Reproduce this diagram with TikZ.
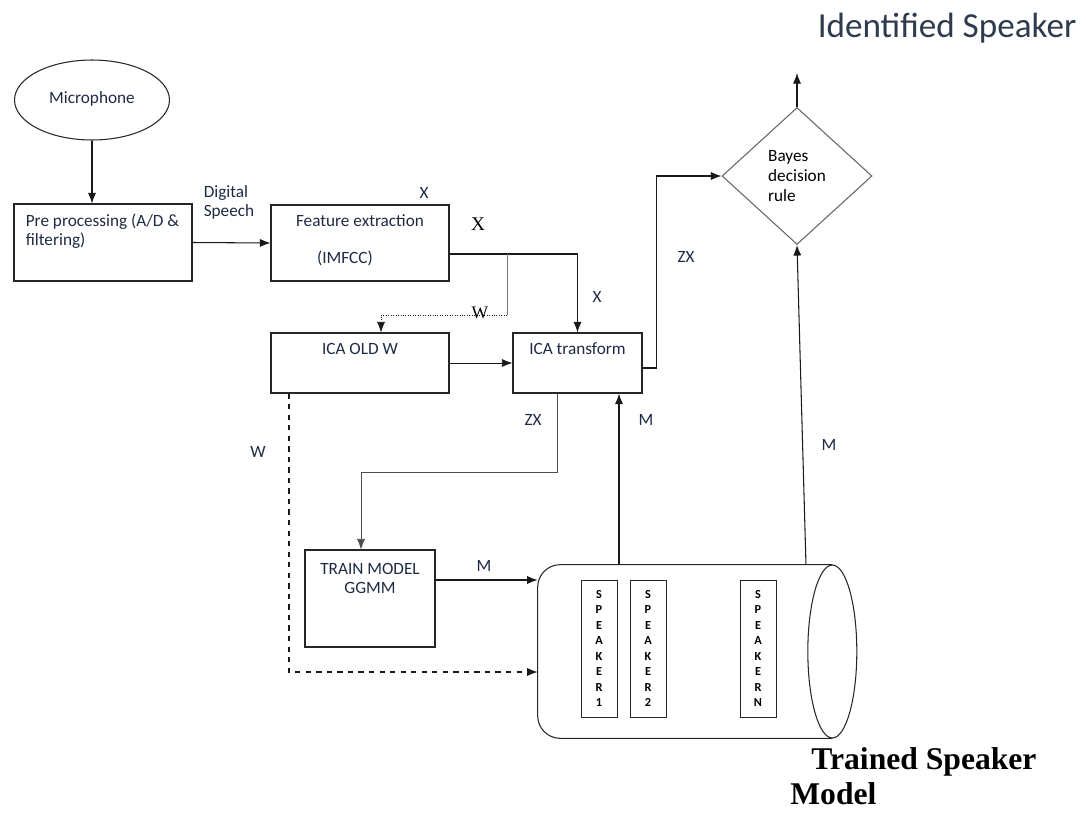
\documentclass[tikz,border=0pt]{standalone}
\usepackage{fontspec}
\setmainfont{Carlito}
\newfontfamily\timesfont{Liberation Serif}
\usepackage{tikz}
\usetikzlibrary{arrows.meta,positioning,shapes.geometric}
\usepackage{xcolor}
\definecolor{inkblue}{HTML}{1E2A44}
\definecolor{titlegray}{HTML}{2E3B4E}

\begin{document}
\begin{tikzpicture}[x=0.02cm, y=-0.02cm, font=\fontsize{9.8}{10.9}\selectfont\color{inkblue}]
\tikzset{
    blockbox/.style={rectangle, draw=black!85, semithick, inner sep=0pt, minimum width=3.56cm},
    boxtext/.style={anchor=north, inner sep=0pt, yshift=-0.2cm, align=center},
    speakerbox/.style={rectangle, draw=black!85, thin, inner sep=0pt, minimum width=0.72cm, minimum height=2.74cm, align=center, font=\fontsize{7}{8.8}\selectfont\bfseries},
    myarrow/.style={-{Latex[length=6pt, width=4.6pt]}, semithick, draw=black!90},
    flowlabel/.style={inner sep=0pt, align=left}
}
\useasboundingbox (0,0) rectangle (1086,812);

\node[ellipse, draw=black!85, semithick, minimum width=3.1cm, minimum height=1.6cm, inner sep=0pt] (mic) at (92,100) {};
\node[inner sep=0pt] at (92,99) {Microphone};

\node[blockbox, minimum height=1.54cm, label={[anchor=north west, inner sep=0pt, xshift=0.24cm, yshift=-0.2cm, align=left]north west:Pre processing (A/D \&\\filtering)}] (pre) at (103,242.5) {};
\node[blockbox, minimum height=1.52cm, label={[boxtext]north:Feature extraction}, label={[inner sep=0pt, xshift=-0.3cm, yshift=-0.3cm]center:(IMFCC)}] (fe) at (360,243) {};
\node[blockbox, minimum height=1.2cm, label={[boxtext]north:ICA OLD W}] (old) at (360,363) {};
\node[blockbox, minimum width=2.58cm, minimum height=1.2cm, label={[boxtext]north:ICA transform}] (ica) at (577.5,363) {};
\node[diamond, draw=black!60, semithick, minimum width=3cm, minimum height=2.74cm, inner sep=0pt, align=left, font=\fontsize{9.8}{11.4}\selectfont] (bayes) at (797,176) {Bayes\\decision\\rule};
\node[blockbox, minimum width=2.6cm, minimum height=1.94cm, label={[boxtext, yshift=-0.06cm]north:TRAIN MODEL\\GGMM}] (train) at (370,598.5) {};

% trained speaker store, drawn round an empty node
\node[rectangle, minimum width=5.88cm, minimum height=3.46cm, inner sep=0pt] (store) at (685,651.5) {};
\draw[black!85, semithick, rounded corners=0.45cm] (store.north east) -- (store.north west) -- (store.south west) -- (store.south east);
\draw[black!85, semithick] (store.east) ellipse (0.49cm and 1.73cm);
\node[speakerbox] (sp1) at (599,648.5) {S\\P\\E\\A\\K\\E\\R\\1};
\node[speakerbox] (sp2) at (648,648.5) {S\\P\\E\\A\\K\\E\\R\\2};
\node[speakerbox] (spN) at (758,648.5) {S\\P\\E\\A\\K\\E\\R\\N};

\coordinate (out) at (797,73);
\coordinate (split) at (507,254);
\coordinate (wturn) at (507,315);
\coordinate (mup) at ([xshift=0.83cm]ica.south);

\draw[myarrow] (mic.south) -- (mic.south |- pre.north);
\draw[myarrow] (pre.east) -- (fe.west);
\draw[myarrow] (fe.east |- split) -| (ica.north);
\draw[black!55] (split) -- (wturn);
\draw[myarrow, thin, densely dotted] (wturn) -| ([xshift=0.42cm]old.north);
\draw[myarrow, thin] (old.east) -- (ica.west);
\draw[myarrow] ([yshift=-0.1cm]ica.east) -- ++(0.28cm,0) |- (bayes.west);
\draw[myarrow] (bayes.north) -- (out);
\draw[myarrow, thin, draw=black!70] ([xshift=-0.41cm]ica.south) -- ++(0,-1.58cm) -| ([xshift=-0.18cm]train.north);
\draw[myarrow] ([yshift=0.37cm]train.east) coordinate (m1) -- (m1 -| store.west);
\draw[myarrow, dashed] ([xshift=-1.42cm]old.south) |- ([yshift=-0.41cm]store.west);
\draw[myarrow] (mup |- store.north) -- (mup);
\draw[myarrow] ([xshift=2.42cm]store.north) -- (bayes.south);

% connector labels
\node[flowlabel] (dspeech) at (229,202) {Digital\\Speech};
\node[flowlabel] (x1) at (424,193) {X};
\node[flowlabel, font=\timesfont\fontsize{11}{13}\selectfont] (x2) at (478,224) {X};
\node[flowlabel] (x3) at (597,297) {X};
\node[flowlabel, font=\timesfont\fontsize{10}{12}\selectfont] (w1) at (480,313) {W};
\node[flowlabel] (zx1) at (686,257) {ZX};
\node[flowlabel] (w2) at (258,452) {W};
\node[flowlabel] (zx2) at (533,420) {ZX};
\node[flowlabel] (m2) at (646,420) {M};
\node[flowlabel] (m3) at (484,566) {M};
\node[flowlabel] (m4) at (829,445) {M};

\node[inner sep=0pt, font=\fontsize{20}{24}\selectfont\color{titlegray}] (title) at (947,28) {Identified Speaker};
\node[inner sep=0pt, anchor=west, font=\timesfont\bfseries\fontsize{18}{22}\selectfont\color{black}] (tsm1) at (811,762) {Trained Speaker};
\node[inner sep=0pt, anchor=west, font=\timesfont\bfseries\fontsize{18}{22}\selectfont\color{black}] (tsm2) at (790,794) {Model};
\end{tikzpicture}
\end{document}
